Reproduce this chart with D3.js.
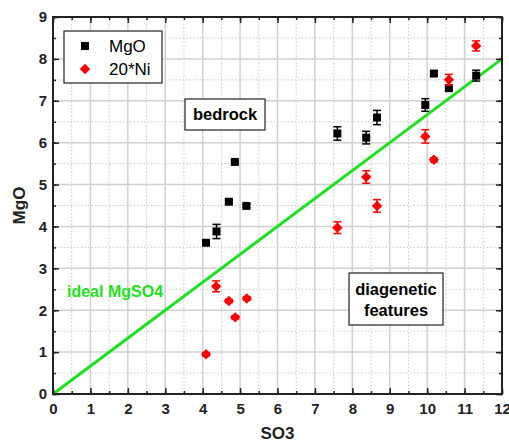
<!DOCTYPE html>
<html>
<head>
<meta charset="utf-8">
<script src="https://cdn.jsdelivr.net/npm/d3@7"></script>
<style>
  body { margin: 0; background: #fff; }
  text { font-family: "Liberation Sans", Arial, sans-serif; }
  .tick text { font-size: 15px; font-weight: bold; fill: #222; }
</style>
</head>
<body>
<svg id="chart" width="509" height="444"></svg>
<script>
// MgO (black squares) values
const mgoSO3 = [4.09, 4.37, 4.70, 4.86, 5.17, 7.60, 8.37, 8.66, 9.95, 10.18, 10.58, 11.31];
const mgoVal = [3.61, 3.88, 4.59, 5.54, 4.49, 6.22, 6.12, 6.60, 6.90, 7.65, 7.30, 7.60];
const mgoErr = [0.04, 0.17, 0.04, 0.04, 0.04, 0.16, 0.15, 0.17, 0.15, 0.05, 0.06, 0.13];

// 20*Ni (red diamonds) values
const niSO3 = [4.09, 4.36, 4.70, 4.87, 5.18, 7.60, 8.37, 8.66, 9.95, 10.18, 10.58, 11.31];
const niVal = [0.95, 2.57, 2.22, 1.83, 2.28, 3.97, 5.18, 4.49, 6.15, 5.59, 7.50, 8.31];
const niErr = [0.04, 0.13, 0.04, 0.04, 0.04, 0.14, 0.15, 0.15, 0.16, 0.05, 0.13, 0.12];

const xTicks = [0, 1, 2, 3, 4, 5, 6, 7, 8, 9, 10, 11, 12];
const yTicks = [0, 1, 2, 3, 4, 5, 6, 7, 8, 9];
const idealLine = [[0, 0], [12, 8]];

const margin = {top: 17, right: 7, bottom: 50, left: 53};
const svg = d3.select('#chart');
const width = 509 - margin.left - margin.right;
const height = 444 - margin.top - margin.bottom;

const x = d3.scaleLinear().domain([0, 12]).range([0, width]);
const y = d3.scaleLinear().domain([0, 9]).range([height, 0]);

const chart = svg.append('g')
    .attr('transform', `translate(${margin.left},${margin.top})`);

// grid lines: dotted minor, solid major
const minorX = d3.range(0.5, 12, 1);
const minorY = d3.range(0.5, 9, 1);
chart.append('g').selectAll('line').data(minorX).join('line')
    .attr('x1', d => x(d)).attr('x2', d => x(d)).attr('y1', 0).attr('y2', height)
    .attr('stroke', '#c8c8c8').attr('stroke-dasharray', '1.5,2');
chart.append('g').selectAll('line').data(minorY).join('line')
    .attr('y1', d => y(d)).attr('y2', d => y(d)).attr('x1', 0).attr('x2', width)
    .attr('stroke', '#c8c8c8').attr('stroke-dasharray', '1.5,2');
chart.append('g').selectAll('line').data(xTicks.slice(1, -1)).join('line')
    .attr('x1', d => x(d)).attr('x2', d => x(d)).attr('y1', 0).attr('y2', height)
    .attr('stroke', '#d0d0d0').attr('stroke-width', 1.5);
chart.append('g').selectAll('line').data(yTicks.slice(1, -1)).join('line')
    .attr('y1', d => y(d)).attr('y2', d => y(d)).attr('x1', 0).attr('x2', width)
    .attr('stroke', '#d0d0d0').attr('stroke-width', 1.5);

// ideal MgSO4 line
chart.append('path')
    .datum(idealLine)
    .attr('d', d3.line().x(d => x(d[0])).y(d => y(d[1])))
    .attr('stroke', '#1ee01e').attr('stroke-width', 3).attr('fill', 'none');

// axes (ticks inward on all four sides)
function styleAxis(g) {
  g.selectAll('.domain').remove();
  g.selectAll('line').attr('stroke', '#222').attr('stroke-width', 1.5);
}
const minorXt = d3.range(0, 12.01, 0.5);
const minorYt = d3.range(0, 9.01, 0.5);

chart.append('g').attr('transform', `translate(0,${height})`)
    .call(d3.axisBottom(x).tickValues(minorXt).tickSize(-3).tickFormat(''))
    .call(styleAxis);
chart.append('g').attr('transform', `translate(0,${height})`)
    .call(d3.axisBottom(x).tickValues(xTicks).tickSize(-6).tickPadding(9).tickFormat(d3.format('d')))
    .call(styleAxis);
chart.append('g')
    .call(d3.axisTop(x).tickValues(minorXt).tickSize(-3).tickFormat(''))
    .call(styleAxis);
chart.append('g')
    .call(d3.axisTop(x).tickValues(xTicks).tickSize(-6).tickFormat(''))
    .call(styleAxis);
chart.append('g')
    .call(d3.axisLeft(y).tickValues(minorYt).tickSize(-3).tickFormat(''))
    .call(styleAxis);
chart.append('g')
    .call(d3.axisLeft(y).tickValues(yTicks).tickSize(-6).tickPadding(6).tickFormat(d3.format('d')))
    .call(styleAxis);
chart.append('g').attr('transform', `translate(${width},0)`)
    .call(d3.axisRight(y).tickValues(minorYt).tickSize(-3).tickFormat(''))
    .call(styleAxis);
chart.append('g').attr('transform', `translate(${width},0)`)
    .call(d3.axisRight(y).tickValues(yTicks).tickSize(-6).tickFormat(''))
    .call(styleAxis);

// frame
chart.append('rect')
    .attr('width', width).attr('height', height)
    .attr('fill', 'none').attr('stroke', '#222').attr('stroke-width', 2);

// error bars + markers
function drawSeries(xs, ys, es, color, sym, size) {
  const g = chart.append('g');
  const data = xs.map((d, i) => ({x: d, y: ys[i], e: es[i]}));
  const eb = g.selectAll('.eb').data(data).join('g').attr('class', 'eb')
      .attr('stroke', color).attr('stroke-width', 1.5);
  eb.append('line')
      .attr('x1', d => x(d.x)).attr('x2', d => x(d.x))
      .attr('y1', d => y(d.y - d.e)).attr('y2', d => y(d.y + d.e));
  eb.append('line')
      .attr('x1', d => x(d.x) - 4).attr('x2', d => x(d.x) + 4)
      .attr('y1', d => y(d.y - d.e)).attr('y2', d => y(d.y - d.e));
  eb.append('line')
      .attr('x1', d => x(d.x) - 4).attr('x2', d => x(d.x) + 4)
      .attr('y1', d => y(d.y + d.e)).attr('y2', d => y(d.y + d.e));
  g.selectAll('.pt').data(data).join('path').attr('class', 'pt')
      .attr('transform', d => `translate(${x(d.x)},${y(d.y)})`)
      .attr('d', d3.symbol().type(sym).size(size))
      .attr('fill', color);
}
const diamond = {
  draw(ctx, size) {
    const r = Math.sqrt(size) / 2 * 1.1;
    ctx.moveTo(0, -r); ctx.lineTo(r, 0); ctx.lineTo(0, r); ctx.lineTo(-r, 0); ctx.closePath();
  }
};
drawSeries(mgoSO3, mgoVal, mgoErr, '#000', d3.symbolSquare, 64);
drawSeries(niSO3, niVal, niErr, '#ff0000', diamond, 90);

// legend
const leg = chart.append('g').attr('transform', 'translate(11,14)');
leg.append('rect').attr('width', 98).attr('height', 52)
    .attr('fill', '#fff').attr('stroke', '#222').attr('stroke-width', 1.2);
leg.append('path').attr('transform', 'translate(21,15)')
    .attr('d', d3.symbol().type(d3.symbolSquare).size(64)).attr('fill', '#000');
leg.append('path').attr('transform', 'translate(21,38)')
    .attr('d', d3.symbol().type(diamond).size(90)).attr('fill', '#ff0000');
leg.append('text').attr('x', 45).attr('y', 21).attr('font-size', 17).text('MgO');
leg.append('text').attr('x', 45).attr('y', 44).attr('font-size', 17).text('20*Ni');

// annotation boxes
const bed = chart.append('g').attr('transform', `translate(132,82)`);
bed.append('rect').attr('width', 80).attr('height', 31)
    .attr('fill', '#fff').attr('stroke', '#222').attr('stroke-width', 1.2);
bed.append('text').attr('x', 40).attr('y', 21).attr('text-anchor', 'middle')
    .attr('font-size', 16.5).attr('font-weight', 'bold').text('bedrock');

const dia = chart.append('g').attr('transform', `translate(296,256)`);
dia.append('rect').attr('width', 94).attr('height', 52)
    .attr('fill', '#fff').attr('stroke', '#222').attr('stroke-width', 1.2);
dia.append('text').attr('x', 47).attr('y', 22).attr('text-anchor', 'middle')
    .attr('font-size', 16.5).attr('font-weight', 'bold').text('diagenetic');
dia.append('text').attr('x', 47).attr('y', 43).attr('text-anchor', 'middle')
    .attr('font-size', 16.5).attr('font-weight', 'bold').text('features');

chart.append('text').attr('x', 14).attr('y', 280)
    .attr('font-size', 16).attr('font-weight', 'bold').attr('fill', '#1ee01e')
    .text('ideal MgSO4');

// axis titles
svg.append('text').attr('x', margin.left + width / 2).attr('y', 439)
    .attr('text-anchor', 'middle').attr('font-size', 17).attr('font-weight', 'bold')
    .attr('fill', '#222').text('SO3');
svg.append('text')
    .attr('transform', `translate(25,${margin.top + height / 2}) rotate(-90)`)
    .attr('text-anchor', 'middle').attr('font-size', 17).attr('font-weight', 'bold')
    .attr('fill', '#222').text('MgO');
</script>
</body>
</html>
